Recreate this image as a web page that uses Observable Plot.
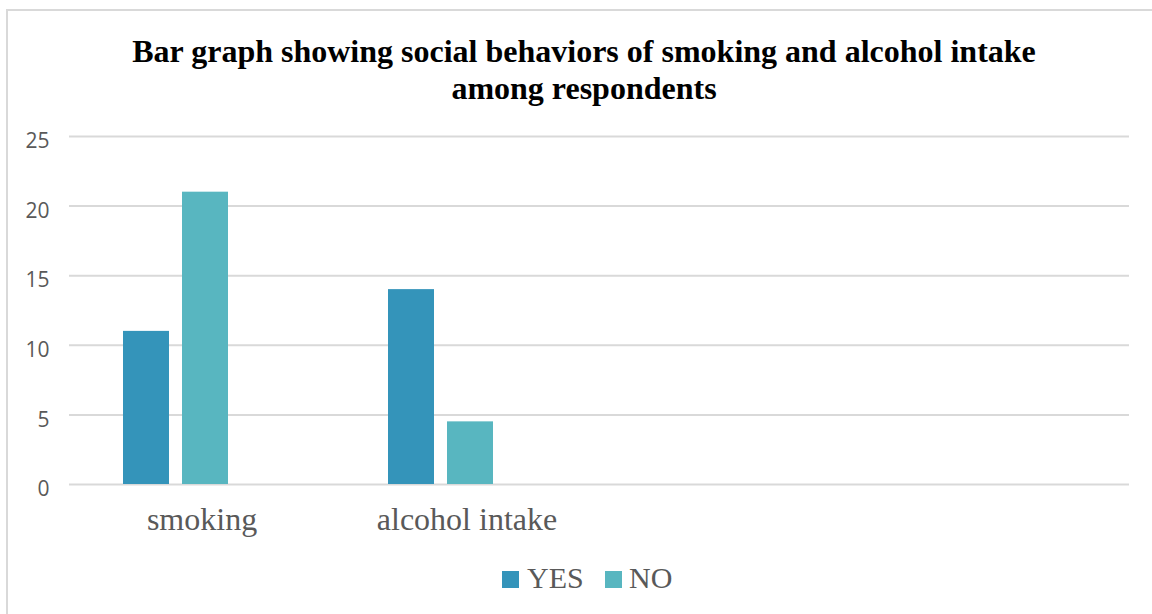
<!DOCTYPE html>
<html>
<head>
<meta charset="utf-8">
<script src="https://cdn.jsdelivr.net/npm/d3@7"></script>
<script src="https://cdn.jsdelivr.net/npm/@observablehq/plot@0.6"></script>
<style>
  html, body { margin: 0; padding: 0; background: #fff; }
  body { width: 1152px; height: 614px; position: relative; overflow: hidden; }
  #frame { position: absolute; left: 6px; top: 9px; width: 1170px; height: 640px; border: 2px solid #d9d9d9; box-sizing: border-box; }
  #title { position: absolute; left: 0; top: 33px; width: 1168px; text-align: center;
           font: bold 32px/37px "Liberation Serif", "Times New Roman", serif; color: #000; }
  #chart { position: absolute; left: 0; top: 0; }
  .legend { position: absolute; top: 0; left: 0; font: 30px "Liberation Serif", "Times New Roman", serif; color: #595959; }
  .sw { position: absolute; width: 17px; height: 17px; top: 571px; }
  .lt { position: absolute; top: 561px; line-height: 34px; white-space: nowrap; }
</style>
</head>
<body>
<div id="frame"></div>
<div id="title">Bar graph showing social behaviors of smoking and alcohol intake<br>among respondents</div>
<div id="chart"></div>
<div class="legend" id="legend"></div>
<script>
// ---- data ----
const categories = ["smoking", "alcohol intake", " ", "  "]; // last two are empty category slots
const series = ["YES", "NO"];
const yesValues = [11, 14, null, null];
const noValues = [21, 4.5, null, null];
const yTicks = [0, 5, 10, 15, 20, 25];
const colors = ["#3494BA", "#58B6C0"];

const rows = [];
categories.forEach((c, i) => {
  if (yesValues[i] != null) rows.push({category: c, series: "YES", value: yesValues[i]});
  if (noValues[i] != null) rows.push({category: c, series: "NO", value: noValues[i]});
});
// gridlines in every category facet (keeps empty facets visible)
const grid = categories.flatMap(c => yTicks.map(t => ({category: c, tick: t})));

const serif = '"Liberation Serif", "Times New Roman", serif';

const plot = Plot.plot({
  width: 1152,
  height: 560,
  marginLeft: 67,
  marginRight: 22,
  marginTop: 136,
  marginBottom: 76,
  style: {background: "transparent", overflow: "visible"},
  fx: {domain: categories, padding: 0, label: null, axis: null},
  x: {domain: [...series, "_"], paddingInner: 0.212, paddingOuter: 0.85, align: 0.535, axis: null},
  y: {domain: [0, 25], axis: null},
  color: {domain: series, range: colors},
  marks: [
    Plot.ruleY(grid, {fx: "category", y: "tick", stroke: "#d9d9d9", strokeWidth: 2}),
    Plot.barY(rows, {fx: "category", x: "series", y: "value", fill: "series"}),
    Plot.axisY({ticks: yTicks, tickSize: 0, tickPadding: 20, fontSize: 21,
      fontFamily: '"Open Sans", sans-serif', fill: "#595959", dy: 5, label: null}),
    Plot.axisFx({anchor: "bottom", tickSize: 0, tickPadding: 23, fontSize: 32, fontFamily: serif,
      fill: "#595959", label: null, tickFormat: d => d.trim()})
  ]
});
document.getElementById("chart").appendChild(plot);

// legend
const legend = document.getElementById("legend");
const swX = [502, 605];
const txX = [527, 629];
series.forEach((s, i) => {
  const sw = document.createElement("div");
  sw.className = "sw"; sw.style.left = swX[i] + "px"; sw.style.background = colors[i];
  legend.appendChild(sw);
  const t = document.createElement("div");
  t.className = "lt"; t.style.left = txX[i] + "px"; t.textContent = s;
  legend.appendChild(t);
});
</script>
</body>
</html>
